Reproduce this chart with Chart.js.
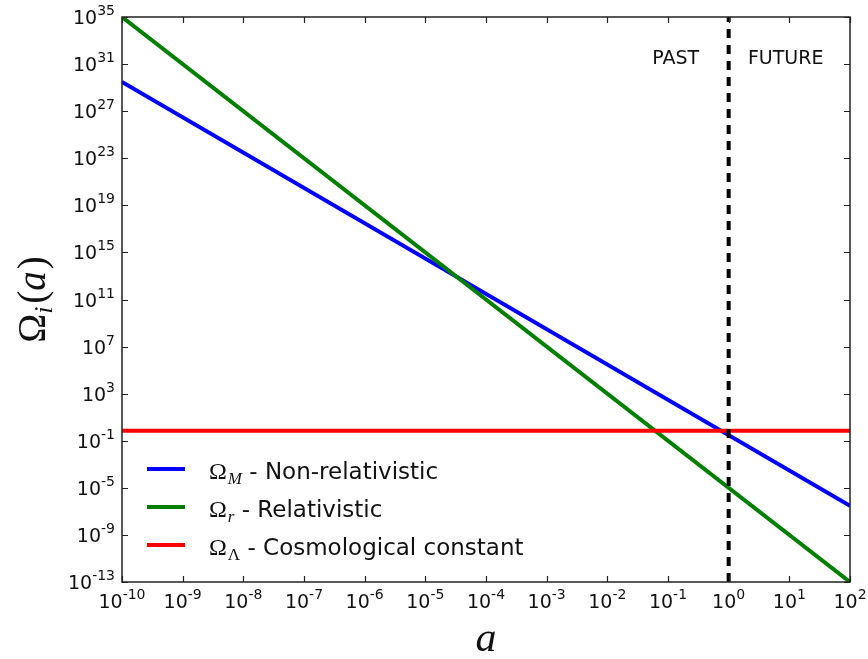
<!DOCTYPE html>
<html>
<head>
<meta charset="utf-8">
<script src="https://cdn.jsdelivr.net/npm/chart.js@4.4.1/dist/chart.umd.min.js"></script>
<style>
  html, body { margin: 0; padding: 0; background: #fff; }
  #chart { display: block; }
</style>
</head>
<body>
<canvas id="chart" width="868" height="659"></canvas>
<script>
// scale factor a, end points of each straight (log-log) line
const aRange = [1e-10, 1e2];
const omegaM = [3e29, 3e-7];
const omegaR = [1e35, 1e-13];
const omegaL = [0.7, 0.7];
const today = [1, 1];
const todayY = [1e-13, 1e35];

const xTickExps = [-10, -9, -8, -7, -6, -5, -4, -3, -2, -1, 0, 1, 2];
const yTickExps = [35, 31, 27, 23, 19, 15, 11, 7, 3, -1, -5, -9, -13];

const seriesSym = ["M", "r", "Λ"];
const seriesText = [" - Non-relativistic", " - Relativistic", " - Cosmological constant"];
const seriesColors = ["#0000ff", "#008000", "#ff0000"];

const sans = '"DejaVu Sans", sans-serif';
const serif = '"Liberation Serif", "DejaVu Serif", serif';

function pts(xs, ys) {
  return xs.map((x, i) => ({ x: x, y: ys[i] }));
}

// text "10" with a raised exponent
function drawPow(ctx, exp, x, y, align) {
  const base = "10";
  const sup = String(exp);
  ctx.font = "19px " + sans;
  const wb = ctx.measureText(base).width;
  ctx.font = "14px " + sans;
  const ws = ctx.measureText(sup).width;
  let x0 = x;
  if (align === "center") x0 = x - (wb + ws) / 2;
  if (align === "right") x0 = x - (wb + ws);
  ctx.textAlign = "left";
  ctx.textBaseline = "alphabetic";
  ctx.font = "19px " + sans;
  ctx.fillText(base, x0, y);
  ctx.font = "14px " + sans;
  ctx.fillText(sup, x0 + wb, y - 9);
}

const frame = {
  id: "frame",
  afterDatasetsDraw(chart) {
    const ctx = chart.ctx;
    const area = chart.chartArea;
    const xs = chart.scales.x;
    const ys = chart.scales.y;
    ctx.save();
    ctx.strokeStyle = "#222";
    ctx.lineWidth = 1.5;
    ctx.strokeRect(area.left, area.top, area.right - area.left, area.bottom - area.top);
    ctx.lineWidth = 1.2;
    ctx.beginPath();
    xTickExps.forEach(e => {
      const px = Math.round(xs.getPixelForValue(Math.pow(10, e))) + 0.5;
      ctx.moveTo(px, area.bottom); ctx.lineTo(px, area.bottom - 6);
      ctx.moveTo(px, area.top); ctx.lineTo(px, area.top + 6);
    });
    yTickExps.forEach(e => {
      const py = Math.round(ys.getPixelForValue(Math.pow(10, e))) + 0.5;
      ctx.moveTo(area.left, py); ctx.lineTo(area.left + 6, py);
      ctx.moveTo(area.right, py); ctx.lineTo(area.right - 6, py);
    });
    ctx.stroke();
    ctx.restore();
  },
  afterDraw(chart) {
    const ctx = chart.ctx;
    const area = chart.chartArea;
    const xs = chart.scales.x;
    const ys = chart.scales.y;
    ctx.save();
    ctx.fillStyle = "#111";

    xTickExps.forEach(e => {
      drawPow(ctx, e, xs.getPixelForValue(Math.pow(10, e)), area.bottom + 26, "center");
    });
    yTickExps.forEach(e => {
      drawPow(ctx, e, area.left - 7, ys.getPixelForValue(Math.pow(10, e)) + 7, "right");
    });

    // PAST / FUTURE
    ctx.font = "19px " + sans;
    ctx.textBaseline = "alphabetic";
    ctx.textAlign = "center";
    const x1 = xs.getPixelForValue(1);
    ctx.fillText("PAST", x1 - 53, 64);
    ctx.fillText("FUTURE", x1 + 57, 64);

    // x title
    ctx.font = "italic 42px " + serif;
    ctx.fillText("a", (area.left + area.right) / 2, 651);

    // y title
    ctx.save();
    ctx.translate(45, (area.top + area.bottom) / 2);
    ctx.rotate(-Math.PI / 2);
    ctx.textAlign = "left";
    ctx.font = "39px " + serif;
    const wO = ctx.measureText("Ω").width;
    ctx.font = "italic 26px " + serif;
    const wi = ctx.measureText("i").width;
    ctx.font = "39px " + serif;
    const wp = ctx.measureText("(").width;
    ctx.font = "italic 39px " + serif;
    const wa = ctx.measureText("a").width;
    const total = wO + wi + 3 + wp * 2 + wa + 2;
    let cx = -total / 2;
    ctx.font = "39px " + serif;
    ctx.fillText("Ω", cx, 0); cx += wO;
    ctx.font = "italic 26px " + serif;
    ctx.fillText("i", cx, 7); cx += wi + 3;
    ctx.font = "39px " + serif;
    ctx.fillText("(", cx, 0); cx += wp;
    ctx.font = "italic 39px " + serif;
    ctx.fillText("a", cx, 0); cx += wa + 2;
    ctx.font = "39px " + serif;
    ctx.fillText(")", cx, 0);
    ctx.restore();

    // legend
    seriesText.forEach((t, i) => {
      const ly = 469 + i * 38;
      ctx.strokeStyle = seriesColors[i];
      ctx.lineWidth = 4;
      ctx.beginPath();
      ctx.moveTo(147, ly); ctx.lineTo(185, ly);
      ctx.stroke();
      let tx = 209;
      ctx.textAlign = "left";
      ctx.font = "24px " + serif;
      ctx.fillText("Ω", tx, ly + 10);
      tx += ctx.measureText("Ω").width + 1;
      ctx.font = (i === 2 ? "" : "italic ") + "17px " + serif;
      ctx.fillText(seriesSym[i], tx, ly + 15);
      tx += ctx.measureText(seriesSym[i]).width;
      ctx.font = "23px " + sans;
      ctx.fillText(t, tx, ly + 10);
    });
    ctx.restore();
  }
};

const canvas = document.getElementById("chart");
new Chart(canvas, {
  type: "line",
  data: {
    datasets: [
      { label: "Omega_M", data: pts(aRange, omegaM), borderColor: seriesColors[0], borderWidth: 4, order: 4 },
      { label: "Omega_r", data: pts(aRange, omegaR), borderColor: seriesColors[1], borderWidth: 4, order: 3 },
      { label: "Omega_L", data: pts(aRange, omegaL), borderColor: seriesColors[2], borderWidth: 4, order: 2 },
      { label: "today", data: pts(today, todayY), borderColor: "#000", borderWidth: 4, borderDash: [9, 7], order: 1 },
    ],
  },
  options: {
    responsive: false,
    animation: false,
    layout: { padding: { left: 0, top: 17, right: 18, bottom: 0 } },
    elements: { point: { radius: 0 }, line: { tension: 0 } },
    plugins: { legend: { display: false }, tooltip: { enabled: false } },
    scales: {
      x: {
        type: "logarithmic",
        min: 1e-10,
        max: 1e2,
        ticks: { display: false },
        grid: { display: false },
        border: { display: false },
        afterFit: (s) => { s.height = 77; },
      },
      y: {
        type: "logarithmic",
        min: 1e-13,
        max: 1e35,
        ticks: { display: false },
        grid: { display: false },
        border: { display: false },
        afterFit: (s) => { s.width = 122; },
      },
    },
  },
  plugins: [frame],
});
</script>
</body>
</html>
